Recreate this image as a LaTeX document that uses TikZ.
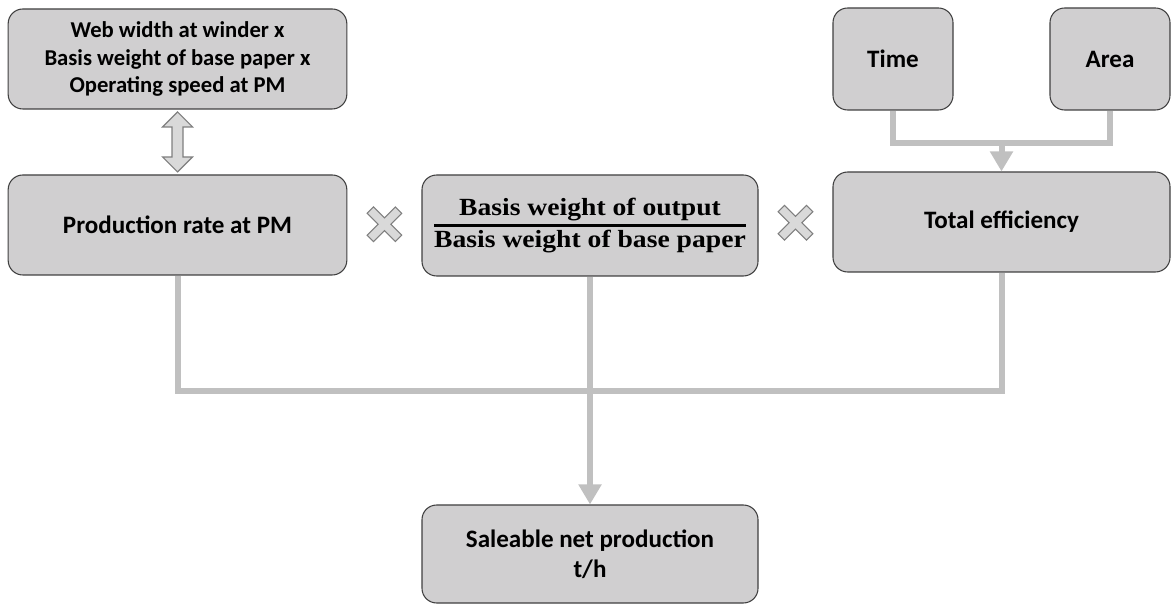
\documentclass[tikz,border=0pt]{standalone}
\usepackage{fontspec}
\setmainfont{Carlito}
\newfontfamily\fracfont{Liberation Serif}[FakeStretch=1.12]
\usetikzlibrary{arrows.meta,calc}
\definecolor{boxfill}{RGB}{208,207,208}
\definecolor{boxline}{RGB}{64,64,64}
\definecolor{conn}{RGB}{192,192,192}
\definecolor{markfill}{RGB}{217,217,217}
\definecolor{markline}{RGB}{127,127,127}
\begin{document}
\begin{tikzpicture}[x=0.75pt,y=-0.75pt,
  box/.style={draw=boxline,fill=boxfill,line width=0.8pt,rounded corners=11pt,
    inner sep=0pt,align=center,font=\bfseries\fontsize{18.8}{23}\selectfont},
  link/.style={draw=conn,line width=4.5pt},
  arrowlink/.style={link,-{Triangle[width=16.5pt,length=15pt]}},
  symb/.style={fill=markfill,draw=markline,line width=0.8pt,line join=miter}]
\useasboundingbox (0,0) rectangle (1171,605);
\node[box,minimum width=254pt,minimum height=75pt,font=\bfseries\fontsize{17}{20.5}\selectfont] (top) at (177.5,59)
  {Web width at winder x\\Basis weight of base paper x\\Operating speed at PM};
\node[box,minimum width=254pt,minimum height=75pt] (prod) at (177.5,225) {Production rate at PM};
\node[box,minimum width=252pt,minimum height=75.75pt] (mid) at (590,225.5)
  {{\fracfont\bfseries\fontsize{18.5}{22.5}\selectfont\setlength\arrayrulewidth{1.6pt}%
   \begin{tabular}{@{}c@{}}Basis weight of output\\\hline Basis weight of base paper\end{tabular}}};
\node[box,minimum width=252.75pt,minimum height=75pt] (teff) at (1001.5,222) {Total efficiency};
\node[box,minimum width=90pt,minimum height=76.5pt] (time) at (893,59) {Time};
\node[box,minimum width=90pt,minimum height=76.5pt] (area) at (1110,59) {Area};
\node[box,minimum width=252pt,minimum height=73.5pt,font=\bfseries\fontsize{18.8}{22.5}\selectfont] (sale) at (590,554)
  {Saleable net production\\t/h};
% Time/Area -> Total efficiency
\coordinate (ta) at ($(time.south)+(0,32)$);
\draw[link] (time.south) -- (ta) -| (area.south);
\draw[arrowlink] (ta -| teff.north) -- (teff.north);
% bottom collection
\coordinate (bl) at ($(prod.south)+(0,115)$);
\draw[link] (prod.south) -- (bl) -| (teff.south);
\draw[arrowlink] (mid.south) -- (sale.north);
% double arrow between top and prod
\path (top.south) -- (prod.north) coordinate[pos=0.5] (dam);
\draw[symb,shift={(dam)}] (0,-30) -- (15,-15) -- (5.5,-15) -- (5.5,15) -- (15,15) -- (0,30)
  -- (-15,15) -- (-5.5,15) -- (-5.5,-15) -- (-15,-15) -- cycle;
% multiplication marks
\path (prod.east) -- (mid.west) coordinate[pos=0.5] (x1);
\path (mid.east) -- (teff.west) coordinate[pos=0.5] (x2);
\foreach \c in {x1,x2}{
  \draw[symb,shift={($(\c)+(0,-1)$)},rotate=45]
    (4.5,4.5) -- (20,4.5) -- (20,-4.5) -- (4.5,-4.5) -- (4.5,-20) -- (-4.5,-20) -- (-4.5,-4.5)
    -- (-20,-4.5) -- (-20,4.5) -- (-4.5,4.5) -- (-4.5,20) -- (4.5,20) -- cycle;
}
\end{tikzpicture}
\end{document}
